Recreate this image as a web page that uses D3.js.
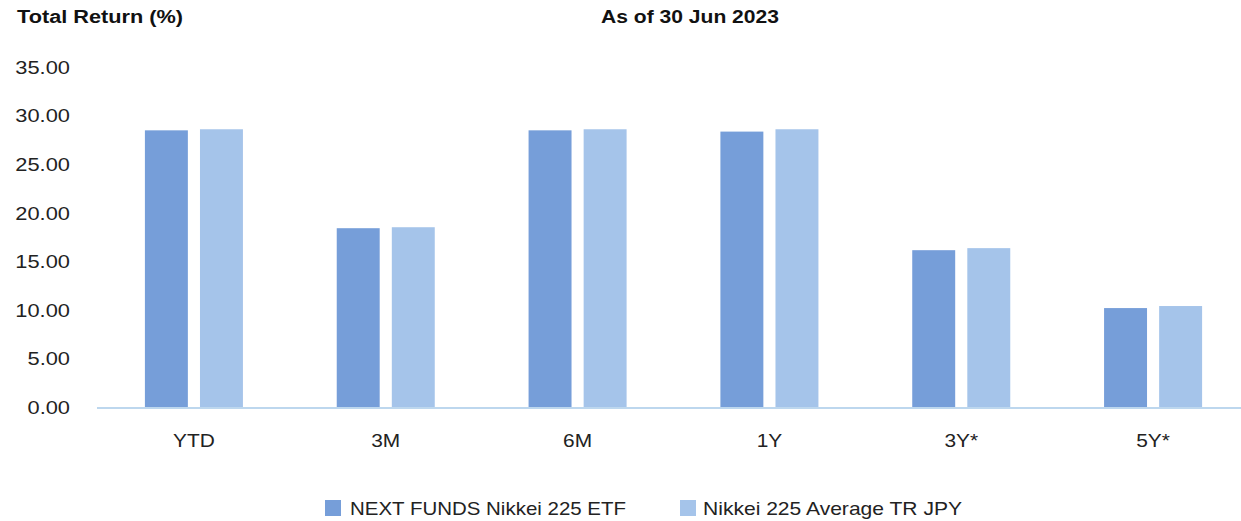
<!DOCTYPE html>
<html>
<head>
<meta charset="utf-8">
<script src="https://cdn.jsdelivr.net/npm/d3@7"></script>
<style>
  html, body { margin: 0; padding: 0; background: #fff; }
  svg text { font-family: "Liberation Sans", Arial, sans-serif; }
</style>
</head>
<body>
<svg id="chart" width="1241" height="521"></svg>
<script>
// Total return by period, fund vs benchmark
const categories = ["YTD", "3M", "6M", "1Y", "3Y*", "5Y*"];
const seriesNames = ["NEXT FUNDS Nikkei 225 ETF", "Nikkei 225 Average TR JPY"];
const fundReturns = [28.49, 18.43, 28.49, 28.36, 16.17, 10.22];
const indexReturns = [28.60, 18.53, 28.60, 28.60, 16.38, 10.43];
const yTicks = [0, 5, 10, 15, 20, 25, 30, 35];
const colors = ["#769ed9", "#a5c4ea"];

const rows = categories.map((c, i) => ({ cat: c, values: [fundReturns[i], indexReturns[i]] }));

const W = 1241, H = 521;
const svg = d3.select("#chart");

const y = d3.scaleLinear().domain([0, 35]).range([407.5, 67]);

const x0 = d3.scaleBand().domain(categories).range([98, 1249])
  .paddingInner(0.489).paddingOuter(0.2445);
const x1 = d3.scaleBand().domain(d3.range(seriesNames.length))
  .range([0, x0.bandwidth()]).paddingInner(0.22).paddingOuter(0);

// Y axis labels (no line, no gridlines); glyphs set slightly wide
const yAxis = d3.axisLeft(y).tickValues(yTicks).tickFormat(d3.format(".2f")).tickSize(0).tickPadding(0);
const gy = svg.append("g").attr("transform", "translate(70,0)").call(yAxis);
gy.select(".domain").remove();
gy.selectAll("text").attr("font-size", 19).attr("fill", "#222")
  .attr("font-family", "'Liberation Sans', Arial, sans-serif")
  .attr("transform", "scale(1.15,1)");

// Bars
const groups = svg.append("g").selectAll("g").data(rows).join("g")
  .attr("transform", d => `translate(${x0(d.cat)},0)`);
groups.selectAll("rect").data(d => d.values.map((v, i) => ({ v, i }))).join("rect")
  .attr("x", d => x1(d.i))
  .attr("width", x1.bandwidth())
  .attr("y", d => y(d.v))
  .attr("height", d => y(0) - y(d.v))
  .attr("fill", d => colors[d.i]);

// Baseline
svg.append("line").attr("x1", 97).attr("x2", W).attr("y1", y(0) + 0.5).attr("y2", y(0) + 0.5)
  .attr("stroke", "#bdd7ee").attr("stroke-width", 2);

// Category labels
const xAxis = d3.axisBottom(x0).tickSize(0).tickPadding(0);
const gx = svg.append("g").attr("transform", "translate(0,440)").call(xAxis);
gx.select(".domain").remove();
gx.selectAll("text").attr("font-size", 19).attr("fill", "#222").attr("dy", "0.35em")
  .attr("font-family", "'Liberation Sans', Arial, sans-serif")
  .attr("transform", "scale(1.1,1)");

// Titles
svg.append("text").attr("x", 17).attr("y", 23).attr("font-size", 17.5).attr("font-weight", "bold")
  .attr("fill", "#111").attr("textLength", 166).attr("lengthAdjust", "spacingAndGlyphs")
  .text("Total Return (%)");
svg.append("text").attr("x", 601).attr("y", 22.5)
  .attr("font-size", 17.5).attr("font-weight", "bold").attr("fill", "#111")
  .attr("textLength", 178).attr("lengthAdjust", "spacingAndGlyphs")
  .text("As of 30 Jun 2023");

// Legend
const legendX = [325, 680];
const legendTextLen = [276, 259];
const legend = svg.append("g").selectAll("g").data(seriesNames).join("g")
  .attr("transform", (d, i) => `translate(${legendX[i]},500)`);
legend.append("rect").attr("width", 16).attr("height", 16).attr("fill", (d, i) => colors[i]);
legend.append("text").attr("x", (d, i) => i === 0 ? 25 : 23).attr("y", 8).attr("dy", "0.35em")
  .attr("font-size", 19).attr("fill", "#222")
  .attr("textLength", (d, i) => legendTextLen[i]).attr("lengthAdjust", "spacingAndGlyphs")
  .text(d => d);
</script>
</body>
</html>
